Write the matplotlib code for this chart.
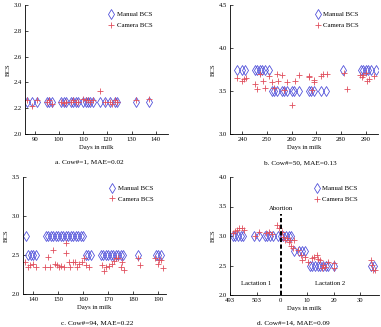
import numpy as num
import matplotlib
matplotlib.use("Agg")
import matplotlib.pyplot as plt

# ---- panel a: cow 1 ----
a_man_day = [87, 89, 91, 95, 96, 97, 101, 102, 103, 105, 106, 107, 108, 110, 111, 112,
             113, 114, 117, 119, 121, 123, 124, 132, 137]
a_man_bcs = [2.25] * len(a_man_day)
a_cam_day = [87, 89, 91, 95, 96, 97, 101, 102, 103, 105, 106, 107, 108, 110, 111, 112,
             113, 114, 117, 119, 121, 122, 123, 124, 132, 137]
a_cam_bcs = [2.26, 2.22, 2.26, 2.25, 2.26, 2.23, 2.25, 2.24, 2.25, 2.25, 2.26, 2.25, 2.25,
             2.27, 2.26, 2.26, 2.25, 2.26, 2.33, 2.25, 2.25, 2.23, 2.26, 2.25, 2.26, 2.27]

# ---- panel b: cow 50 ----
b_man_day = [238, 240, 241, 245, 246, 247, 248, 249, 251,
             252, 253, 254, 256, 257, 258, 260, 261, 263, 267, 268, 269, 272, 274,
             281, 288, 289, 290, 291, 292, 294]
b_man_bcs = [3.75] * 9 + [3.5] * 14 + [3.75] * 7
b_cam_day = [238, 240, 240.8, 241.5, 245, 246, 247.3, 248.2, 249, 251, 252, 253, 254, 254.3,
             256, 257, 258, 260, 261.5, 263, 267, 267.2, 268.2, 269, 269.2, 272, 272.5, 274.3,
             281.3, 282.4, 287.8, 288.5, 289, 290, 290.5, 291.4, 293.4]
b_cam_bcs = [3.65, 3.62, 3.64, 3.65, 3.58, 3.52, 3.70, 3.62, 3.54, 3.67, 3.60, 3.54, 3.70, 3.62,
             3.69, 3.51, 3.60, 3.34, 3.62, 3.69, 3.67, 3.66, 3.51, 3.63, 3.60, 3.67, 3.70, 3.70,
             3.71, 3.52, 3.69, 3.66, 3.69, 3.71, 3.62, 3.64, 3.67]

# ---- panel c: cow 94 ----
c_man_day = [137, 138, 139, 140, 141] + list(range(145, 161)) + [161, 162, 163] + \
            list(range(167, 177)) + [182, 189, 190, 191]
c_man_bcs = [2.75] + [2.5] * 4 + [2.75] * 16 + [2.5] * 3 + [2.5] * 10 + [2.5] * 4
c_cam_day = [136.8, 137.9, 138.9, 140.1, 141.1, 144.8, 145.9, 146.8, 147.9, 148.6, 149.5,
             150.5, 151.3, 152.2, 153.1, 153.1, 154.2, 154.9, 155.8, 156.9, 157.5, 158.5,
             159.6, 160.2, 161.3, 162.2, 167.3, 168.3, 169.2, 170.3, 171.3, 172.3, 173.2,
             174, 175, 175.4, 176.3, 181.7, 182.6, 188.7, 189.7, 190.3, 191, 191.7]
c_cam_bcs = [2.41, 2.35, 2.37, 2.38, 2.35, 2.35, 2.47, 2.34, 2.56, 2.38, 2.37,
             2.35, 2.36, 2.35, 2.65, 2.53, 2.41, 2.34, 2.41, 2.41, 2.35, 2.38,
             2.41, 2.46, 2.37, 2.35, 2.37, 2.29, 2.34, 2.36, 2.39, 2.42, 2.46,
             2.46, 2.35, 2.41, 2.31, 2.46, 2.37, 2.46, 2.39, 2.44, 2.44, 2.33]

# ---- panel d: cow 14 (days of lactation 1 are shifted so abortion = 0) ----
lact1_end = 512
d_man_day = [-18, -17, -16, -15, -14, -10, -8, -6, -5, -4, -3, -1, 0, 1, 2, 3, 4,
             5, 7, 8, 9, 11, 12, 13, 14, 15, 16, 17, 18, 20, 34, 35]
d_man_bcs = [3.0] * 17 + [2.75] * 4 + [2.5] * 11
d_cam_day = [-18, -17.2, -16.4, -15.5, -14.5, -13.9, -9.7, -8, -5.5, -4.2, -3.2, -1.4, -0.7,
             0.5, 1.1, 1.7, 2.4, 3, 3.6, 4, 4.9, 4.5, 6.7, 7.7, 8.2, 9, 10.5, 11.7, 12.7,
             13.6, 14.2, 14.9, 15.5, 16.1, 16.7, 17.7, 19.9, 19.9, 34, 34.5, 34.9, 35.5]
d_cam_bcs = [3.05, 3.09, 3.11, 3.13, 3.13, 3.11, 3.0, 3.06, 3.05, 3.06, 3.03, 3.19, 3.13,
             3.07, 2.99, 2.93, 2.96, 2.89, 2.94, 2.83, 2.93, 2.79, 2.76, 2.68, 2.59, 2.64,
             2.56, 2.62, 2.64, 2.68, 2.61, 2.59, 2.45, 2.51, 2.48, 2.56, 2.54, 2.45, 2.59,
             2.51, 2.42, 2.42]
d_tick_days = [493, 503, 0, 10, 20, 30]

titles = ["a. Cow#=1, MAE=0.02", "b. Cow#=50, MAE=0.13",
          "c. Cow#=94, MAE=0.22", "d. Cow#=14, MAE=0.09"]

plt.rcParams['font.family'] = ['Liberation Serif', 'DejaVu Serif']
plt.rcParams['font.size'] = 4.8

BLUE = '#4646d8'
RED = '#e0505e'
W, H = 381, 327

fig = plt.figure(figsize=(W / 100, H / 100), dpi=100)

#rectangulos de los ejes en pixeles: izquierda, arriba, derecha, abajo
rects = [(25, 5, 168, 134), (230, 5, 378, 134), (23, 177, 166, 294), (230, 177, 379, 295)]

def make_ax(r):
    x0, y0, x1, y1 = r
    ax = fig.add_axes([x0 / W, 1 - y1 / H, (x1 - x0) / W, (y1 - y0) / H])
    ax.spines['top'].set_visible(False)
    ax.spines['right'].set_visible(False)
    for s in ('left', 'bottom'):
        ax.spines[s].set_linewidth(0.6)
    ax.tick_params(direction='in', length=2, width=0.5, pad=2, labelsize=4.8)
    return ax

def draw(ax, md, mb, cd, cb, leg_xy):
    ax.plot(md, mb, linestyle='none', marker='d', markersize=4.6, markerfacecolor='none',
            markeredgecolor=BLUE, markeredgewidth=0.55, label='Manual BCS')
    ax.plot(cd, cb, linestyle='none', marker='+', markersize=4.2,
            color=RED, markeredgewidth=0.6, label='Camera BCS')
    ax.legend(loc='upper left', bbox_to_anchor=leg_xy, frameon=False, fontsize=4.9,
              handletextpad=0.3, labelspacing=0.7, handlelength=1.0, borderaxespad=0)
    ax.set_ylabel('BCS', fontsize=4.8, labelpad=2)
    ax.set_xlabel('Days in milk', fontsize=4.8, labelpad=2)

axs = [make_ax(r) for r in rects]

# a
draw(axs[0], a_man_day, a_man_bcs, a_cam_day, a_cam_bcs, (0.56, 0.97))
axs[0].set_xlim(86, 145)
axs[0].set_ylim(2.0, 3.0)
axs[0].set_xticks(num.arange(90, 141, 10))
axs[0].set_yticks(num.arange(2.0, 3.01, 0.2))

# b
draw(axs[1], b_man_day, b_man_bcs, b_cam_day, b_cam_bcs, (0.55, 0.97))
axs[1].set_xlim(235, 295)
axs[1].set_ylim(3.0, 4.5)
axs[1].set_xticks(num.arange(240, 291, 10))
axs[1].set_yticks(num.arange(3.0, 4.51, 0.5))

# c
draw(axs[2], c_man_day, c_man_bcs, c_cam_day, c_cam_bcs, (0.58, 0.95))
axs[2].set_xlim(136, 193)
axs[2].set_ylim(2.0, 3.5)
axs[2].set_xticks(num.arange(140, 191, 10))
axs[2].set_yticks(num.arange(2.0, 3.51, 0.5))

# d
ax = axs[3]
draw(ax, d_man_day, d_man_bcs, d_cam_day, d_cam_bcs, (0.54, 0.95))
ax.set_xlim(-19, 37)
ax.set_ylim(2.0, 4.0)
ax.set_xticks([t - lact1_end if t > 100 else t for t in d_tick_days])
ax.set_xticklabels([str(t) for t in d_tick_days])
ax.set_yticks(num.arange(2.0, 4.01, 0.5))
ax.plot([0, 0], [2.0, 3.38], color='black', linestyle=(0, (2.2, 1.2)), linewidth=1.4)
ax.text(0, 3.42, 'Abortion', ha='center', va='bottom', fontsize=4.8)
ax.text(-9, 2.2, 'Lactation 1', ha='center', va='center', fontsize=4.8)
ax.text(18.6, 2.2, 'Lactation 2', ha='center', va='center', fontsize=4.8)

# titulos debajo de cada panel
for (cx, cy), t in zip([(89, 162), (300, 163), (97, 323), (293, 323)], titles):
    fig.text(cx / W, 1 - cy / H, t, ha='center', va='center', fontsize=5.2)

fig.savefig('out.png', dpi=100)
